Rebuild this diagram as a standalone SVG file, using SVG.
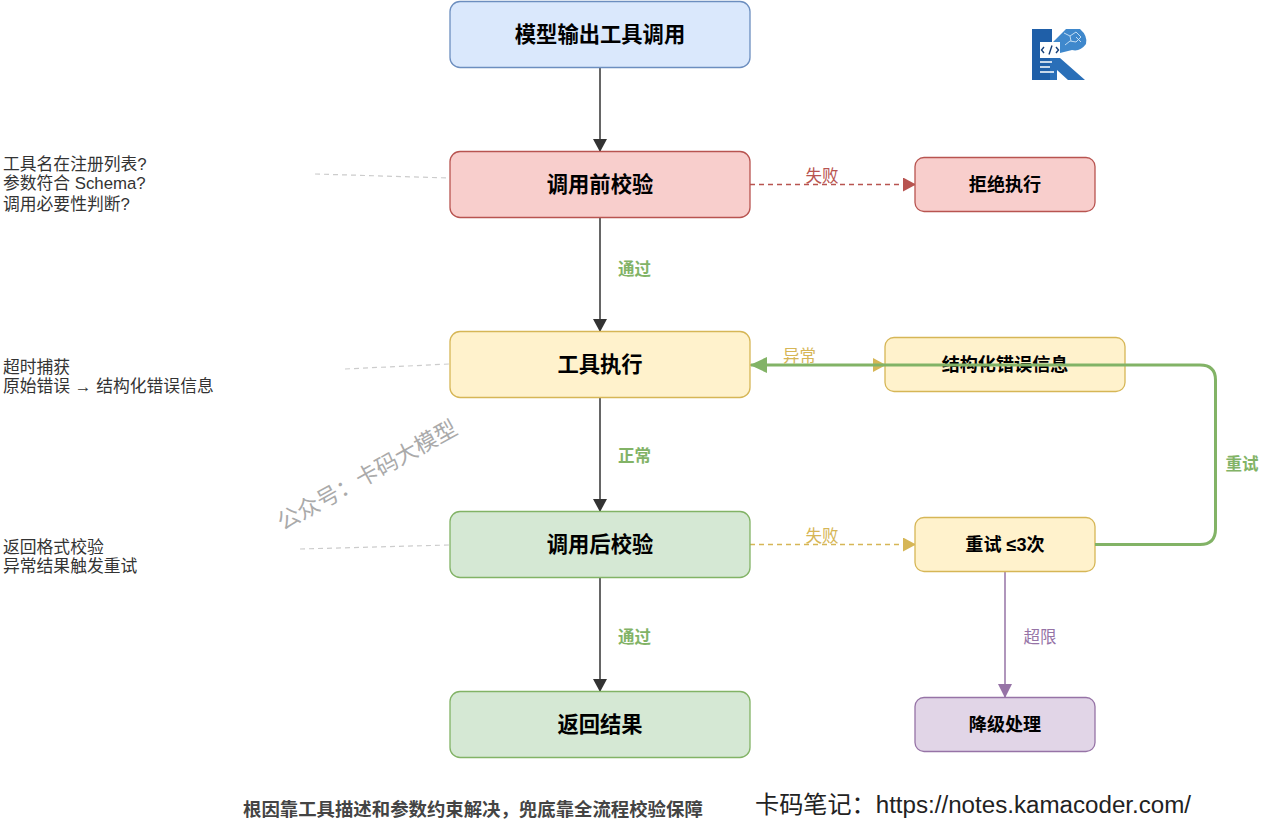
<svg xmlns="http://www.w3.org/2000/svg" width="1285" height="837" viewBox="0 0 1285 837">
<style>
text{font-family:"Liberation Sans","Noto Sans CJK SC",sans-serif}
.n{stroke-width:1.3}
.big{font-size:21.300px;font-weight:700;text-anchor:middle;fill:#000}
.mid{font-size:18.100px;font-weight:700;text-anchor:middle;fill:#000}
.note{font-size:16.800px;fill:#333}
.lb{font-size:16.500px;text-anchor:middle}
.b{font-weight:700}
.blue{fill:#dae8fc;stroke:#6c8ebf}.red{fill:#f8cecc;stroke:#b85450}.yel{fill:#fff2cc;stroke:#d6b656}.grn{fill:#d5e8d4;stroke:#82b366}.pur{fill:#e1d5e7;stroke:#9673a6}
.dash{stroke:#ccc;stroke-width:1.2;stroke-dasharray:5 4;fill:none}
</style>
<defs>
<marker id="ak" markerUnits="userSpaceOnUse" markerWidth="13" markerHeight="14" refX="12" refY="7" orient="auto"><path d="M0 0L13 7L0 14z" fill="#333"/></marker>
<marker id="ar" markerUnits="userSpaceOnUse" markerWidth="13" markerHeight="14" refX="12" refY="7" orient="auto"><path d="M0 0L13 7L0 14z" fill="#b85450"/></marker>
<marker id="ay" markerUnits="userSpaceOnUse" markerWidth="13" markerHeight="14" refX="12" refY="7" orient="auto"><path d="M0 0L13 7L0 14z" fill="#d6b656"/></marker>
<marker id="ag" markerUnits="userSpaceOnUse" markerWidth="17" markerHeight="16" refX="16" refY="8" orient="auto"><path d="M0 0L17 8L0 16z" fill="#82b366"/></marker>
<marker id="ap" markerUnits="userSpaceOnUse" markerWidth="14" markerHeight="14" refX="13" refY="7" orient="auto"><path d="M0 0L14 7L0 14z" fill="#9673a6"/></marker>
</defs>

<g id="connectors" fill="none">
<path d="M600 67V151" stroke="#333" stroke-width="1.5" marker-end="url(#ak)"/>
<path d="M600 217V331" stroke="#333" stroke-width="1.5" marker-end="url(#ak)"/>
<path d="M600 397V511" stroke="#333" stroke-width="1.5" marker-end="url(#ak)"/>
<path d="M600 577V691" stroke="#333" stroke-width="1.5" marker-end="url(#ak)"/>
<path d="M750 184.500H915" stroke="#b85450" stroke-width="1.3" stroke-dasharray="5 4" marker-end="url(#ar)"/>
<path d="M750 365H885" stroke="#d6b656" stroke-width="1.3" stroke-dasharray="5 4" marker-end="url(#ay)"/>
<path d="M750 544.500H915" stroke="#d6b656" stroke-width="1.3" stroke-dasharray="5 4" marker-end="url(#ay)"/>
<path d="M1005 571V697" stroke="#9673a6" stroke-width="1.5" marker-end="url(#ap)"/>
<path class="dash" d="M315 174L449 178"/>
<path class="dash" d="M345 369L449 364"/>
<path class="dash" d="M300 549L449 545"/>
</g>

<g id="n1"><rect class="n blue" x="450" y="1.500" width="300" height="66" rx="10"/><text class="big" x="600" y="42">模型输出工具调用</text></g>
<g id="n2"><rect class="n red" x="450" y="151.500" width="300" height="66" rx="10"/><text class="big" x="600" y="192">调用前校验</text></g>
<g id="n3"><rect class="n yel" x="450" y="331.500" width="300" height="66" rx="10"/><text class="big" x="600" y="372">工具执行</text></g>
<g id="n4"><rect class="n grn" x="450" y="511.500" width="300" height="66" rx="10"/><text class="big" x="600" y="552">调用后校验</text></g>
<g id="n5"><rect class="n grn" x="450" y="691.500" width="300" height="66" rx="10"/><text class="big" x="600" y="732">返回结果</text></g>
<g id="n6"><rect class="n red" x="915" y="157.500" width="180" height="54" rx="9"/><text class="mid" x="1005" y="191">拒绝执行</text></g>
<g id="n7"><rect class="n yel" x="885" y="337.500" width="240" height="54" rx="9"/><text class="mid" x="1005" y="371">结构化错误信息</text></g>
<g id="n8"><rect class="n yel" x="915" y="517.500" width="180" height="54" rx="9"/><text class="mid" x="1005" y="551">重试 ≤3次</text></g>
<g id="n9"><rect class="n pur" x="915" y="697.500" width="180" height="54" rx="9"/><text class="mid" x="1005" y="731">降级处理</text></g>

<g id="retry-connector" fill="none"><path d="M1095 544.500H1200Q1215.500 544.500 1215.500 529V380Q1215.500 365 1200 365H751" stroke="#82b366" stroke-width="3" marker-end="url(#ag)"/></g>

<g id="labels">
<text class="lb" x="822" y="182" fill="#b85450">失败</text>
<text class="lb b" x="634.500" y="275" fill="#82b366">通过</text>
<text class="lb" x="799.500" y="362" fill="#d6b656">异常</text>
<text class="lb b" x="634.500" y="462" fill="#82b366">正常</text>
<text class="lb" x="822" y="542" fill="#d6b656">失败</text>
<text class="lb b" x="634.500" y="643" fill="#82b366">通过</text>
<text class="lb b" x="1242" y="470" fill="#82b366">重试</text>
<text class="lb" x="1040" y="643" fill="#9673a6">超限</text>
</g>

<g id="notes">
<text class="note" x="3" y="169.500">工具名在注册列表?</text>
<text class="note" x="3" y="189">参数符合 Schema?</text>
<text class="note" x="3" y="209.500">调用必要性判断?</text>
<text class="note" x="3" y="373">超时捕获</text>
<text class="note" x="3" y="392">原始错误 → 结构化错误信息</text>
<text class="note" x="3" y="552.500">返回格式校验</text>
<text class="note" x="3" y="571.500">异常结果触发重试</text>
</g>

<text x="367" y="483" font-size="22.400" fill="#aaa" text-anchor="middle" transform="rotate(-29 367 475)">公众号：卡码大模型</text>
<text x="243" y="816" font-size="18.400" font-weight="700" fill="#444">根因靠工具描述和参数约束解决，兜底靠全流程校验保障</text>
<text x="755" y="813" font-size="24.150" fill="#222">卡码笔记：https://notes.kamacoder.com/</text>

<g id="logo">
<path d="M1032 29H1052V42H1040V58H1050V80H1032z" fill="#1f5fa8"/>
<path d="M1050 58H1060L1085 80H1068L1057 70V80H1050z" fill="#2a6fb8"/>
<path d="M1060 53L1053 42L1066 29H1080Q1088 36 1086 44Q1080 52 1072 50z" fill="#3f88cc"/>
<rect x="1040" y="42" width="20" height="16" fill="#fff"/>
<path d="M1044 47l-2.500 3 2.500 3M1056 47l2.500 3-2.500 3M1052 45.500l-3 9" fill="none" stroke="#163f78" stroke-width="1.400"/>
<path d="M1040 62h12M1040 67h10M1040 72h14" stroke="#fff" stroke-width="1.300"/>
<path d="M1064 33l6 3 6-4 5 5-5 5-6-1-5 4M1070 36l1 5M1076 37l5 5" fill="none" stroke="#cfe4f6" stroke-width=".9"/>
</g>
</svg>
